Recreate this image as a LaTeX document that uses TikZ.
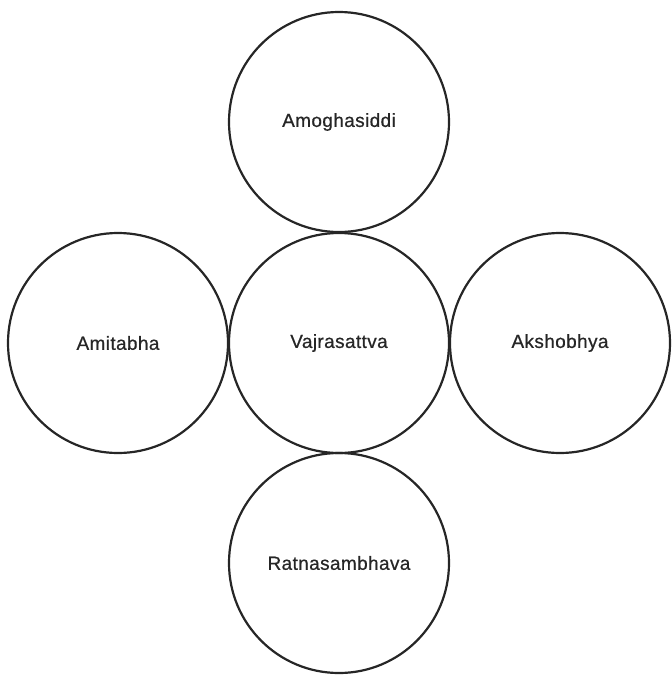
\documentclass[tikz,border=0pt]{standalone}
\usepackage{fontspec}
\setmainfont{Liberation Sans}
\newfontfamily\lblfont[FakeBold=0.6,LetterSpace=2]{Liberation Sans}
\begin{document}
\begin{tikzpicture}[x=1pt,y=-1pt,
  deity/.style={circle,draw=black!85,line width=2.2pt,minimum size=220pt,inner sep=0pt,font=\lblfont\fontsize{19}{22}\selectfont,text=black!85}]
\useasboundingbox (0,0) rectangle (672,675);
\node[deity] (top) at (339,122) {Amoghasiddi};
\node[deity] (center) at (339,343) {Vajrasattva};
\node[deity] (left) at (118,343) {Amitabha};
\node[deity] (right) at (560,343) {Akshobhya};
\node[deity] (bottom) at (339,563) {Ratnasambhava};
\end{tikzpicture}
\end{document}
